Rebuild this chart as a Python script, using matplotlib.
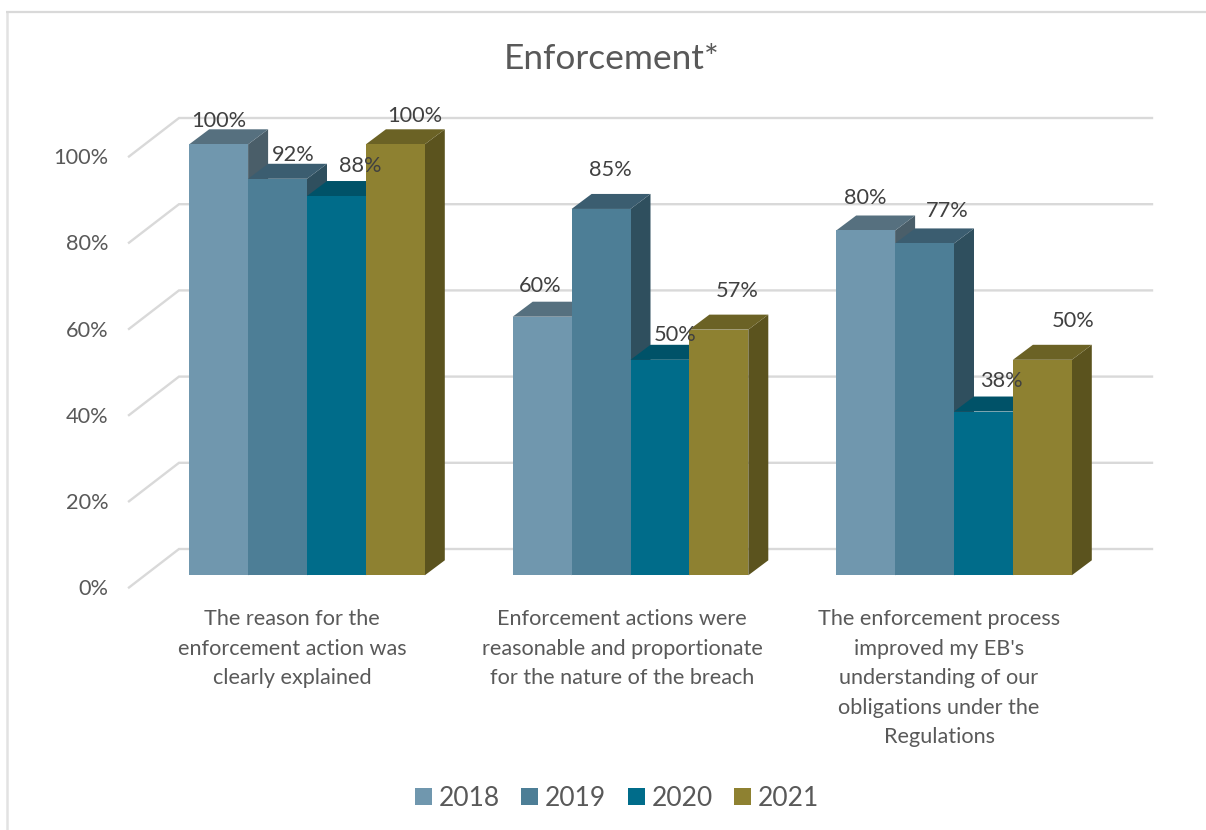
import matplotlib
matplotlib.use("Agg")
import matplotlib.pyplot as plt
from matplotlib.patches import Polygon, Rectangle

plt.rcParams["font.family"] = ["Lato", "DejaVu Sans"]

years = ["2018", "2019", "2020", "2021"]
categories = [
    "The reason for the\nenforcement action was\nclearly explained",
    "Enforcement actions were\nreasonable and proportionate\nfor the nature of the breach",
    "The enforcement process\nimproved my EB's\nunderstanding of our\nobligations under the\nRegulations",
]
values_2018 = [100, 60, 80]
values_2019 = [92, 85, 77]
values_2020 = [88, 50, 38]
values_2021 = [100, 57, 50]
series = [values_2018, values_2019, values_2020, values_2021]
y_ticks = [0, 20, 40, 60, 80, 100]

front_colors = ["#7097AE", "#4D7E96", "#006C8A", "#8E8131"]
top_colors = ["#56707F", "#3B5D70", "#005268", "#6B6225"]
side_colors = ["#4A5E69", "#2F4F5E", "#004558", "#5B531E"]
text_color = "#595959"
label_color = "#404040"
grid_color = "#D9D9D9"

# Pixel geometry of the oblique projection
W, H = 1206, 830
PX_PER_PCT = 4.31
BASE_PX = 575.3
PX_PER_CAT = 323.5
CAT0_PX = 307.0
BAR_W = 58.9 / PX_PER_CAT
DEPTH_X, DEPTH_Y = 20 / PX_PER_CAT, 15 / PX_PER_PCT
WALL_X, WALL_Y = 50 / PX_PER_CAT, 38.5 / PX_PER_PCT
FLOOR_LEFT = (129 - CAT0_PX) / PX_PER_CAT
FLOOR_Y = -12.2 / PX_PER_PCT
GRID_RIGHT = (1152 - CAT0_PX) / PX_PER_CAT

# Label nudges in pixels, relative to the top-centre of the bar front
label_nudges = [
    [(0, 23), (16, 24), (24, 30), (19, 28)],
    [(-2, 31), (9, 39), (15, 25), (18, 39)],
    [(0, 32), (23, 32), (18, 31), (31, 39)],
]
cat_label_centres = [292, 622, 939]

fig = plt.figure(figsize=(W / 100, H / 100), dpi=100, facecolor="white")
ax = fig.add_axes([0, 0, 1, 1])
ax.set_xlim(-CAT0_PX / PX_PER_CAT, (W - CAT0_PX) / PX_PER_CAT)
ax.set_ylim((BASE_PX - H) / PX_PER_PCT, BASE_PX / PX_PER_PCT)
ax.axis("off")


def px_x(px):
    return (px - CAT0_PX) / PX_PER_CAT


def px_y(px):
    return (BASE_PX - px) / PX_PER_PCT


# Chart frame: only the top and left edges are visible
ax.plot([px_x(7), px_x(7)], [px_y(830), px_y(12)], color="#E2E2E2", lw=1.8, solid_capstyle="butt")
ax.plot([px_x(6), px_x(1206)], [px_y(12), px_y(12)], color=grid_color, lw=1.6, solid_capstyle="butt")

# Gridlines along the side wall and back wall
for t in y_ticks:
    y0 = FLOOR_Y + t
    ax.plot([FLOOR_LEFT, FLOOR_LEFT + WALL_X, GRID_RIGHT], [y0, y0 + WALL_Y, y0 + WALL_Y],
            color=grid_color, lw=1.7, solid_joinstyle="miter", zorder=1)
    ax.text(px_x(108.5), t - 14 / PX_PER_PCT, f"{t}%", ha="right", va="center",
            fontsize=15.7, color=text_color)

# Bars, left to right so each one overlaps its neighbour's side face
n = len(series)
for c in range(len(categories)):
    for s in range(n):
        v = series[s][c]
        x0 = c + (s - n / 2) * BAR_W
        x1 = x0 + BAR_W
        z = 2 + c * n + s
        ax.add_patch(Polygon([(x1, 0), (x1 + DEPTH_X, DEPTH_Y), (x1 + DEPTH_X, v + DEPTH_Y), (x1, v)],
                             fc=side_colors[s], ec="none", zorder=z))
        ax.add_patch(Polygon([(x0, v), (x0 + DEPTH_X, v + DEPTH_Y), (x1 + DEPTH_X, v + DEPTH_Y), (x1, v)],
                             fc=top_colors[s], ec="none", zorder=z))
        ax.add_patch(Rectangle((x0, 0), BAR_W, v, fc=front_colors[s], ec="none", zorder=z))

# Value labels sit above every bar
for c in range(len(categories)):
    for s in range(n):
        v = series[s][c]
        dx, dy = label_nudges[c][s]
        xc = c + (s - n / 2 + 0.5) * BAR_W + dx / PX_PER_CAT
        ax.text(xc, v + dy / PX_PER_PCT, f"{v}%", ha="center", va="center",
                fontsize=15.7, color=label_color, zorder=50)

# Category labels
for label, cx in zip(categories, cat_label_centres):
    ax.text(px_x(cx), px_y(609), label, ha="center", va="top", fontsize=15.6,
            color=text_color, linespacing=1.6)

ax.text(px_x(611.5), px_y(59), "Enforcement*", ha="center", va="center", fontsize=25.4, color=text_color)

# Legend
swatch_px = [415, 521, 628, 734]
label_px = [439, 545, 652, 758]
for s, year in enumerate(years):
    ax.add_patch(Rectangle((px_x(swatch_px[s]), px_y(804.5)), 17 / PX_PER_CAT, 17 / PX_PER_PCT,
                           fc=front_colors[s], ec="none"))
    ax.text(px_x(label_px[s]), px_y(798), year, ha="left", va="center", fontsize=19, color=text_color)

fig.savefig("out.png", dpi=100)
